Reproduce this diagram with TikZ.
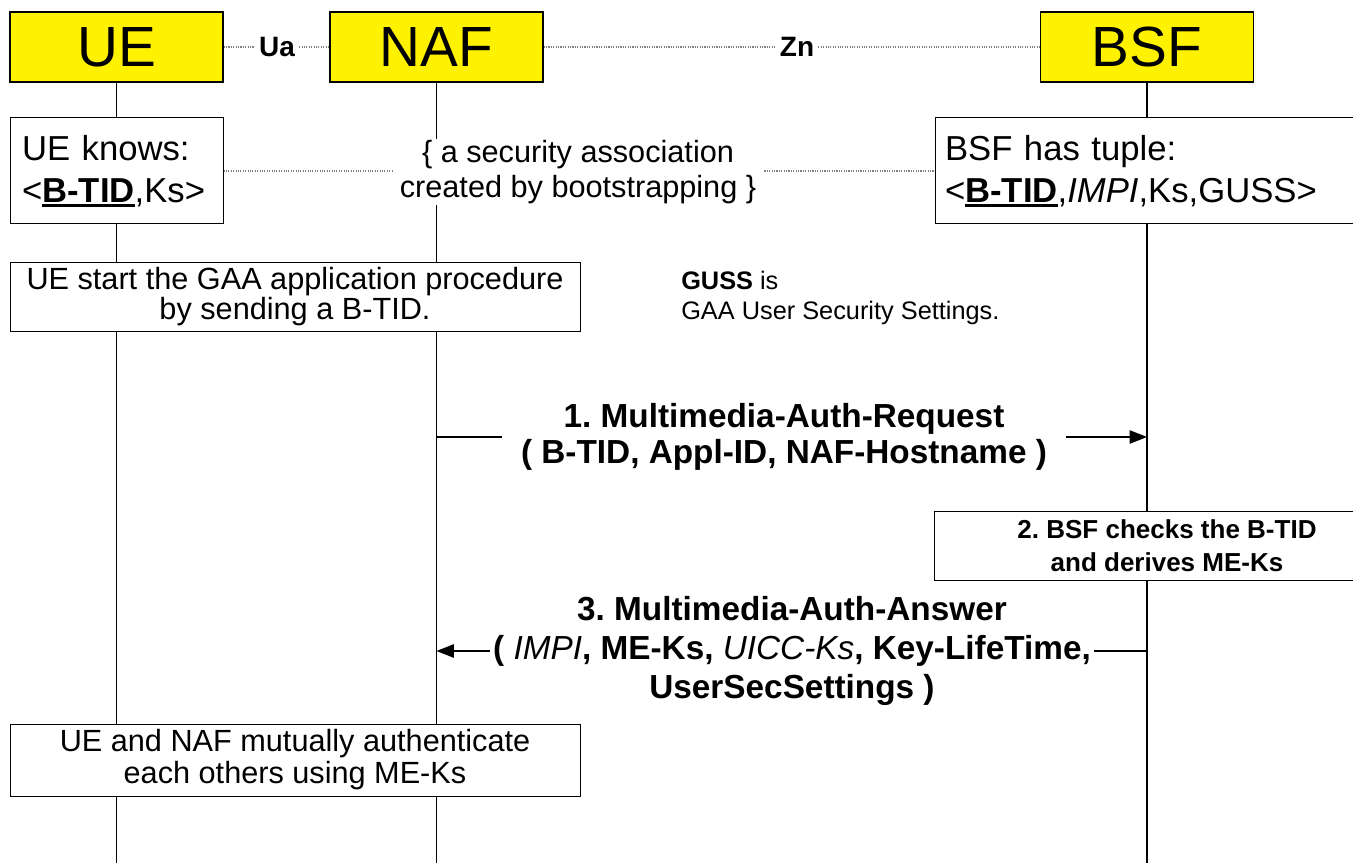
\documentclass[tikz,border=0pt]{standalone}
\usepackage{fontspec}
\setmainfont{Liberation Sans}
\usetikzlibrary{arrows.meta}
\frenchspacing

\newcommand{\keyid}[1]{\vtop{\hbox{\textbf{#1}}\kern1.2pt\hrule height 2pt}}

\tikzset{
	entity/.style={draw, line width=1pt, fill=yellow, minimum width=159.75pt, minimum height=52.5pt, inner sep=0pt, font=\fontsize{42.5}{42.5}\selectfont},
	iface/.style={inner sep=3pt, font=\bfseries\fontsize{21}{21}\selectfont},
	ifline/.style={draw=gray, densely dotted, line width=0.8pt},
	life/.style={line width=1pt},
	note/.style={draw, fill=white, line width=0.75pt, inner sep=0pt},
	msg/.style={align=center, font=\bfseries\fontsize{25}{27}\selectfont},
	tip/.style={-{Triangle[length=13pt, width=10pt]}}
}

\begin{document}
\begin{tikzpicture}[x=0.75pt, y=-0.75pt]
		\useasboundingbox (0,0) rectangle (1353,863);
		\clip (0,0) rectangle (1353,863);
		\coordinate (bottom) at (0,870);
		\node [entity] (ue) at (116.5,47) {UE};
		\node [entity] (naf) at (436.5,47) {NAF};
		\node [entity] (bsf) at (1147,47) {BSF};
		\draw [life] (ue.south) -- (ue.south |- bottom);
		\draw [life] (naf.south) -- (naf.south |- bottom);
		\draw [life] (bsf.south) -- (bsf.south |- bottom);
		\node [iface] (ua) at (277,47) {Ua};
		\node [iface] (zn) at (797,47) {Zn};
		\draw [ifline] (ue.east) -- (ua.west);
		\draw [ifline] (ua.east) -- (naf.west);
		\draw [ifline] (naf.east) -- (zn.west);
		\draw [ifline] (zn.east) -- (bsf.west);
		\node [note, minimum width=159.75pt, minimum height=79.5pt, inner xsep=9pt, text width=141.75pt, align=left, font=\fontsize{26}{31.5}\selectfont] (knows) at (116.5,171) {UE knows:\\<\keyid{B-TID},Ks>};
		\node [note, minimum width=348.75pt, minimum height=79.5pt, inner xsep=7.5pt, text width=333.75pt, align=left, font=\fontsize{26}{31.5}\selectfont] (tuple) at (1167.5,171) {BSF has tuple:\\<\keyid{B-TID},\textit{IMPI},Ks,GUSS>};
		\node [fill=white, align=center, inner xsep=6pt, inner ysep=1pt, font=\fontsize{23}{26}\selectfont] (sa) at (578,172) {\{ a security association\\created by bootstrapping \}};
		\draw [ifline] (knows.east) -- (knows.east -| sa.west);
		\draw [ifline] (tuple.west -| sa.east) -- (tuple.west);
		\node [note, minimum width=427.5pt, minimum height=51.75pt, align=center, font=\fontsize{23}{22.5}\selectfont] (start) at (295,297) {UE start the GAA application procedure\\by sending a B-TID.};
		\node [anchor=north west, inner sep=0pt, align=left, font=\fontsize{19}{22.5}\selectfont] (guss) at (681,271) {\textbf{GUSS} is\\GAA User Security Settings.};
		\node [msg, inner xsep=14pt] (req) at (784,437) {1. Multimedia-Auth-Request\\( B-TID, Appl-ID, NAF-Hostname )};
		\draw [life] (req.west -| naf) -- (req.west);
		\draw [life, tip] (req.east) -- (req.east -| bsf);
		\node [note, minimum width=349.5pt, minimum height=51.75pt, align=center, font=\bfseries\fontsize{19.5}{24.5}\selectfont] (check) at (1167,545.5) {2. BSF checks the B-TID\\and derives ME-Ks};
		\node [msg, inner xsep=2.5pt, font=\bfseries\fontsize{25}{29}\selectfont] (ans) at (792,651) {3. Multimedia-Auth-Answer\\( {\mdseries\itshape IMPI}, ME-Ks, {\mdseries\itshape UICC-Ks}, Key-LifeTime,\\UserSecSettings )};
		\draw [life] (ans.east -| bsf) -- (ans.east);
		\draw [life, tip] (ans.west) -- (ans.west -| naf);
		\node [note, minimum width=427.5pt, minimum height=54pt, align=center, font=\fontsize{23}{24}\selectfont] (mutual) at (295,760) {UE and NAF mutually authenticate\\each others using ME-Ks};
\end{tikzpicture}
\end{document}
